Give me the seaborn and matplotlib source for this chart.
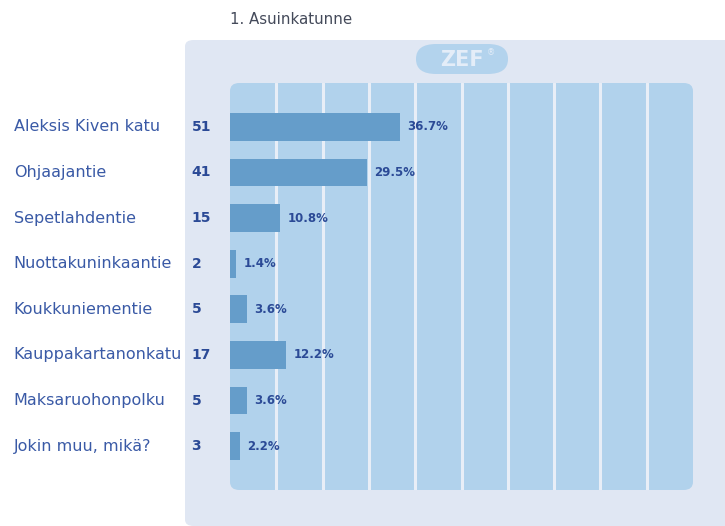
import numpy as np
import pandas as pd
import matplotlib.pyplot as plt
import seaborn as sns
from matplotlib.patches import FancyBboxPatch

sns.set_style("white")
plt.rcParams['font.family'] = ['DejaVu Sans']

# data
kadut = ['Aleksis Kiven katu', 'Ohjaajantie', 'Sepetlahdentie', 'Nuottakuninkaantie',
         'Koukkuniementie', 'Kauppakartanonkatu', 'Maksaruohonpolku', 'Jokin muu, mikä?']
lukumaarat = [51, 41, 15, 2, 5, 17, 5, 3]
prosentit = [36.7, 29.5, 10.8, 1.4, 3.6, 12.2, 3.6, 2.2]

df = pd.DataFrame({'katu': kadut, 'n': lukumaarat, 'pct': prosentit})

W, H = 725, 526
fig = plt.figure(figsize=(W / 100, H / 100), dpi=100)

# outer panel
panel = FancyBboxPatch((185 / W, 0), (W - 185) / W + 0.02, (H - 40) / H,
                       boxstyle="round,pad=0,rounding_size=0.012",
                       transform=fig.transFigure, facecolor='#e0e7f3', edgecolor='none', zorder=-2)
fig.patches.append(panel)

# ZEF logo pill
logo = FancyBboxPatch((416 / W, (H - 74) / H), 92 / W, 30 / H,
                      boxstyle="round,pad=0,rounding_size=0.028",
                      transform=fig.transFigure, facecolor='#b3d3ed', edgecolor='none', zorder=-1)
fig.patches.append(logo)
fig.text(462 / W, (H - 60) / H, 'ZEF', color='#e4edf8', fontsize=15, fontweight='bold',
         ha='center', va='center')
fig.text(491 / W, (H - 53) / H, '®', color='#e4edf8', fontsize=6, ha='center', va='center')

fig.text(230 / W, (H - 20) / H, '1. Asuinkatunne', color='#444a5a', fontsize=10.8, va='center')

ax = fig.add_axes([230 / W, (H - 490) / H, 463 / W, 407 / H])
ax.patch.set_visible(False)
bg = FancyBboxPatch((0, 0), 1, 1, boxstyle="round,pad=0,rounding_size=0.02",
                    transform=ax.transAxes, facecolor='#b1d2ec', edgecolor='none', zorder=0)
ax.add_patch(bg)
for gx in range(10, 100, 10):
    ax.axvline(gx, color='#e8eef7', lw=2.2, zorder=1)

sns.barplot(data=df, x='pct', y='katu', orient='h', color='#659dca', width=0.61,
            saturation=1, linewidth=0, edgecolor='none', ax=ax, zorder=2)

ax.set_xlim(0, 100)
ax.set_ylim(7.96, -0.96)
ax.set_xlabel('')
ax.set_ylabel('')
ax.set_xticks([])
ax.set_yticks([])
for s in ax.spines.values():
    s.set_visible(False)

for i, (k, n, p) in enumerate(zip(kadut, lukumaarat, prosentit)):
    ax.text(p + 1.6, i, f'{p:.1f}%', color='#2b4a96', fontsize=8.5, fontweight='bold',
            va='center', ha='left', zorder=3)
    ax.text(-8.3, i, str(n), color='#2b4a96', fontsize=10, fontweight='bold',
            va='center', ha='left', clip_on=False)
    ax.text(-46.7, i, k, color='#3a5aa6', fontsize=11.5, va='center', ha='left', clip_on=False)

fig.savefig('out.png', dpi=100)
